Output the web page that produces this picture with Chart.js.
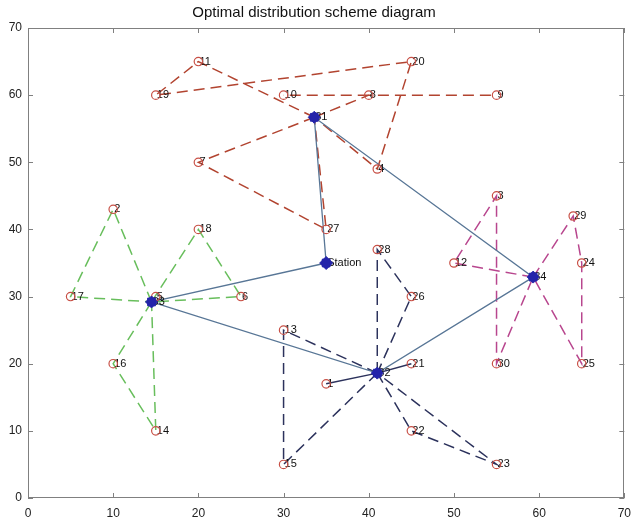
<!DOCTYPE html>
<html>
<head>
<meta charset="utf-8">
<script src="https://cdn.jsdelivr.net/npm/chart.js@4/dist/chart.umd.min.js"></script>
<style>
html,body{margin:0;padding:0;background:#fff;}
#wrap{width:639px;height:524px;position:relative;}
</style>
</head>
<body>
<div id="wrap"><canvas id="c"></canvas></div>
<script>
// ---- data ----
const xTicks = [0,10,20,30,40,50,60,70];
const yTicks = [0,10,20,30,40,50,60,70];
// customers 1..30
const custIds = [1,2,3,4,5,6,7,8,9,10,11,12,13,14,15,16,17,18,19,20,21,22,23,24,25,26,27,28,29,30];
const custX   = [35,10,55,41,15,25,20,40,55,30,20,50,30,15,30,10,5,20,15,45,45,45,55,65,65,45,35,41,64,55];
const custY   = [17,43,45,49,30,30,50,60,60,60,65,35,25,10,5,20,30,40,60,65,20,10,5,35,20,30,40,37,42,20];
// depots 31..34
const depotIds = [31,32,33,34];
const depotX   = [33.6,41,14.5,59.3];
const depotY   = [56.7,18.6,29.2,32.9];
// station
const stationLabel = "Station";
const stationX = [35];
const stationY = [35];
// routes (point ids; 0 = station)
const routeRed1 = [31,11,19,20,4,31];
const routeRed2 = [31,8,9];
const routeRed2b = [8,10];
const routeRed3 = [31,7,27,31];
const routeGreen1 = [33,2,17,33];
const routeGreen2 = [33,18,6,33];
const routeGreen3 = [33,16,14,33];
const routeBlue1 = [32,28,26,32];
const routeBlue2 = [32,13,15,32];
const routeBlue3 = [32,21];
const routeBlue4 = [32,1];
const routeBlue5 = [32,22,23,32];
const routeMag1 = [34,12,3,30,34];
const routeMag2 = [34,29,24,25,34];
const trunkRoute = [0,33,32,34,31,0];

// ---- build ----
function pt(id){
  if(id===0) return {x:stationX[0],y:stationY[0]};
  let i = custIds.indexOf(id);
  if(i>=0) return {x:custX[i],y:custY[i]};
  i = depotIds.indexOf(id);
  return {x:depotX[i],y:depotY[i]};
}
function routeDs(ids,color,dash,width){
  return {type:'scatter',showLine:true,data:ids.map(pt),borderColor:color,borderWidth:width||1.5,
    borderDash:dash,pointRadius:0,pointHoverRadius:0,fill:false,tension:0};
}
const RED='rgb(178,68,48)', GREEN='rgb(104,190,92)', NAVY='rgb(44,50,92)', MAG='rgb(184,70,142)', TRUNK='rgb(88,118,150)';
const D=[11,6];
const depotColor='rgb(36,36,170)';
const datasets = [
  {data:depotX.map((x,i)=>({x,y:depotY[i]})),pointStyle:'rect',pointRadius:5.5,backgroundColor:depotColor,borderColor:depotColor,borderWidth:1,showLine:false},
  {data:depotX.map((x,i)=>({x,y:depotY[i]})),pointStyle:'rectRot',pointRadius:6,backgroundColor:depotColor,borderColor:depotColor,borderWidth:1,showLine:false},
  {data:[{x:stationX[0],y:stationY[0]}],pointStyle:'rect',pointRadius:5.5,backgroundColor:depotColor,borderColor:depotColor,borderWidth:1,showLine:false},
  {data:[{x:stationX[0],y:stationY[0]}],pointStyle:'rectRot',pointRadius:6.5,backgroundColor:depotColor,borderColor:depotColor,borderWidth:1,showLine:false},
  {data:custX.map((x,i)=>({x,y:custY[i]})),pointStyle:'circle',pointRadius:4.2,backgroundColor:'rgba(255,255,255,0)',borderColor:'rgb(200,80,70)',borderWidth:1.2,showLine:false},
  routeDs(trunkRoute,TRUNK,[],1.3),
  routeDs(routeRed1,RED,D),routeDs(routeRed2,RED,D),routeDs(routeRed2b,RED,D),routeDs(routeRed3,RED,D),
  routeDs(routeGreen1,GREEN,D),routeDs(routeGreen2,GREEN,D),routeDs(routeGreen3,GREEN,D),
  routeDs(routeBlue1,NAVY,D),routeDs(routeBlue2,NAVY,D),routeDs(routeBlue3,NAVY,[],1.5),
  routeDs(routeBlue4,NAVY,[],1.5),routeDs(routeBlue5,NAVY,D),
  routeDs(routeMag1,MAG,D),routeDs(routeMag2,MAG,D)
];
const CUST_INDEX = 4;

const labelPlugin = {
  id:'labels',
  beforeDatasetDraw(chart,args){
    if(args.index!==CUST_INDEX) return;
    const ctx=chart.ctx, xs=chart.scales.x, ys=chart.scales.y;
    ctx.save();
    ctx.font='11px "Liberation Sans", Arial, sans-serif';
    ctx.fillStyle='#111';
    ctx.textAlign='left';ctx.textBaseline='middle';
    custIds.forEach((id,i)=>ctx.fillText(String(id),xs.getPixelForValue(custX[i])+1,ys.getPixelForValue(custY[i])));
    depotIds.forEach((id,i)=>ctx.fillText(String(id),xs.getPixelForValue(depotX[i])+1,ys.getPixelForValue(depotY[i])));
    ctx.fillText(stationLabel,xs.getPixelForValue(stationX[0])+1,ys.getPixelForValue(stationY[0]));
    ctx.restore();
  }
};
const framePlugin = {
  id:'frame',
  afterDraw(chart){
    const ctx=chart.ctx,a=chart.chartArea,xs=chart.scales.x,ys=chart.scales.y;
    ctx.save();
    ctx.strokeStyle='#808080';ctx.lineWidth=1;
    ctx.strokeRect(Math.round(a.left)+0.5,Math.round(a.top)+0.5,Math.round(a.right-a.left)-1,Math.round(a.bottom-a.top)-1);
    ctx.beginPath();
    xTicks.forEach(v=>{const p=Math.round(xs.getPixelForValue(v))+0.5;
      ctx.moveTo(p,a.bottom);ctx.lineTo(p,a.bottom-5);ctx.moveTo(p,a.top);ctx.lineTo(p,a.top+5);});
    yTicks.forEach(v=>{const p=Math.round(ys.getPixelForValue(v))+0.5;
      ctx.moveTo(a.left,p);ctx.lineTo(a.left+5,p);ctx.moveTo(a.right,p);ctx.lineTo(a.right-5,p);});
    ctx.stroke();
    ctx.restore();
  }
};

new Chart(document.getElementById('c'),{
  type:'scatter',
  data:{datasets},
  options:{
    responsive:true,maintainAspectRatio:false,animation:false,
    layout:{padding:{left:0,right:11,top:0,bottom:0}},
    plugins:{
      legend:{display:false},tooltip:{enabled:false},
      title:{display:true,text:'Optimal distribution scheme diagram',color:'#111',
        font:{family:'"Liberation Sans", Arial, sans-serif',size:15,weight:'normal'},padding:{top:4,bottom:6}}
    },
    scales:{
      x:{type:'linear',min:0,max:70,
        afterBuildTicks:s=>{s.ticks=xTicks.map(v=>({value:v}));},
        afterFit:s=>{s.height=26;},
        grid:{display:false,drawTicks:false},border:{display:false},
        ticks:{color:'#222',padding:8,font:{family:'"Liberation Sans", Arial, sans-serif',size:12},maxRotation:0}},
      y:{type:'linear',min:0,max:70,
        afterBuildTicks:s=>{s.ticks=yTicks.map(v=>({value:v}));},
        afterFit:s=>{s.width=28;},
        grid:{display:false,drawTicks:false},border:{display:false},
        ticks:{color:'#222',padding:6,font:{family:'"Liberation Sans", Arial, sans-serif',size:12}}}
    }
  },
  plugins:[labelPlugin,framePlugin]
});
</script>
</body>
</html>
